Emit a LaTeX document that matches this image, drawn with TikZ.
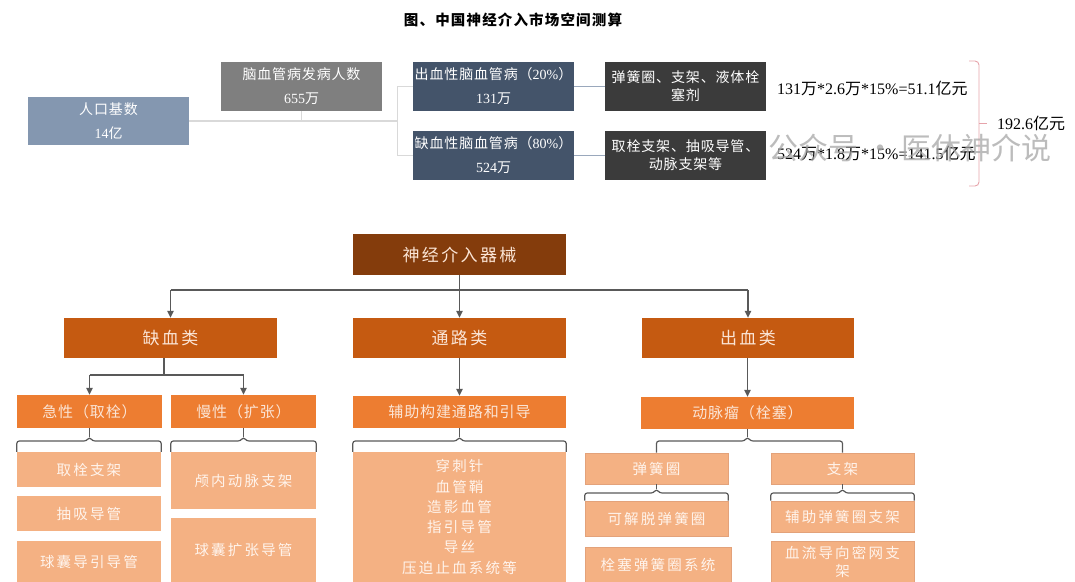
\documentclass[tikz,border=0pt]{standalone}
\usepackage{fontspec}
\setmainfont{Noto Sans CJK SC}
\newfontfamily\cjkA[LetterSpace=6]{Noto Sans CJK SC}
\newfontfamily\cjkS[LetterSpace=6]{Noto Sans CJK SC}
\newfontfamily\cjkC[LetterSpace=14]{Noto Sans CJK SC}
\newfontfamily\cjkB[LetterSpace=15]{Noto Sans CJK SC}
\newfontfamily\cjkT[LetterSpace=8]{Noto Sans CJK SC}
\newfontfamily\lat{Liberation Serif}
\newcommand\nm[1]{{\lat #1}}
\usetikzlibrary{arrows.meta,calc}
\definecolor{popc}{HTML}{8497B0}
\definecolor{incc}{HTML}{7F7F7F}
\definecolor{navyc}{HTML}{44546A}
\definecolor{darkc}{HTML}{3B3B3B}
\definecolor{rootc}{HTML}{843C0C}
\definecolor{catc}{HTML}{C55A11}
\definecolor{subc}{HTML}{ED7D31}
\definecolor{leafc}{HTML}{F4B183}
\definecolor{leafb}{HTML}{E3A27A}
\definecolor{creamc}{HTML}{FBE5D6}
\definecolor{leaftxt}{HTML}{FFF4EC}
\definecolor{lgray}{HTML}{D9D9D9}
\definecolor{bluel}{HTML}{9AA8BC}
\definecolor{bracec}{HTML}{E6A3AA}
\definecolor{conc}{HTML}{595959}
\definecolor{wmc}{HTML}{A6A6A6}
\tikzset{
  topbox/.style={inner sep=0pt, align=center, text=white,
    font=\fontsize{14}{24}\selectfont\cjkA},
  darkbox/.style={inner sep=0pt, align=center, text=white, fill=darkc,
    minimum width=161, minimum height=49,
    font=\fontsize{14}{18}\selectfont\cjkA},
  catbox/.style={inner sep=0pt, align=center, text=creamc,
    font=\fontsize{17}{19}\selectfont\cjkC},
  subbox/.style={inner sep=0pt, align=center, text=creamc, fill=subc,
    font=\fontsize{15}{17}\selectfont\cjkS},
  leafbox/.style={inner sep=0pt, align=center, text=leaftxt, fill=leafc,
    font=\fontsize{14.5}{20.3}\selectfont\cjkB},
  rleaf/.style={leafbox, draw=leafb, line width=0.6},
  conn/.style={draw=conc, line width=1.2},
  arr/.style={conn, -{Triangle[length=7pt,width=6.5pt]}},
  brc/.style={draw=conc, line width=1.2, rounded corners=2.5},
  formula/.style={anchor=west, inner sep=0pt, font=\fontsize{16}{18}\selectfont}
}
% brace: #1 parent node, #2 left end, #3 right end, #4 bar y
\newcommand\brk[4]{%
  \draw[brc] (#2) -- (#2 |- 0,#4) -- ($(#1.south |- 0,#4)+(-3,0)$)
    -- ($(#1.south |- 0,#4)+(0,-4)$) -- ($(#1.south |- 0,#4)+(3,0)$)
    -- (#3 |- 0,#4) -- (#3);
  \draw[conn] ($(#1.south |- 0,#4)+(0,-4)$) -- (#1.south);
}
\begin{document}
\begin{tikzpicture}[x=1pt,y=-1pt]
\useasboundingbox (0,0) rectangle (1075,581);
% ---------- title ----------
\node[font=\fontsize{14.5}{16}\selectfont\cjkT\bfseries, inner sep=0pt] (title) at (513,20) {图、中国神经介入市场空间测算};
% ---------- top flow ----------
\node[topbox, fill=popc, minimum width=161, minimum height=48] (pop) at (108.5,121) {人口基数\\\nm{14}亿};
\node[topbox, fill=incc, minimum width=161, minimum height=49] (inc) at (301.5,86.5) {脑血管病发病人数\\\nm{655}万};
\node[topbox, fill=navyc, minimum width=161, minimum height=49] (hem) at (493.5,86.5) {出血性脑血管病（\nm{20\%}）\\\nm{131}万};
\node[topbox, fill=navyc, minimum width=161, minimum height=49] (isc) at (493.5,155.5) {缺血性脑血管病（\nm{80\%}）\\\nm{524}万};
\node[darkbox] (d1) at (685.5,86.5) {弹簧圈、支架、液体栓\\塞剂};
\node[darkbox] (d2) at (685.5,155.5) {取栓支架、抽吸导管、\\动脉支架等};
\coordinate (j) at (397,121);
\draw[lgray, line width=1.6] (pop.east) -- (j);
\draw[lgray, line width=1] (inc.south) -- (inc.south |- j);
\draw[lgray, line width=1] (hem.west) -| (j);
\draw[lgray, line width=1] (isc.west) -| (j);
\draw[bluel, line width=0.9] (hem.east) -- (d1.west);
\draw[bluel, line width=0.9] (isc.east) -- (d2.west);
\node[formula] (f1) at (777,88) {\nm{131}万\nm{*2.6}万\nm{*15\%=51.1}亿元};
\node[formula] (f2) at (777,153) {\nm{524}万\nm{*1.8}万\nm{*15\%=141.5}亿元};
\coordinate (bt) at (969,61);
\coordinate (bb) at (969,186);
\coordinate (bm) at (979,123);
\coordinate (bn) at (987,123);
\node[formula] (tot) at (997,123) {\nm{192.6}亿元};
\draw[bracec, line width=0.9, rounded corners=4] (bt) -- (979,61) -- (979,186) -- (bb);
\draw[bracec, line width=0.9] (bm) -- (bn);
% ---------- bottom tree ----------
\node[catbox, fill=rootc, minimum width=213, minimum height=41] (root) at (459.5,254.5) {神经介入器械};
\node[catbox, fill=catc, minimum width=213, minimum height=40] (c1) at (170.5,338) {缺血类};
\node[catbox, fill=catc, minimum width=213, minimum height=40] (c2) at (459.5,338) {通路类};
\node[catbox, fill=catc, minimum width=212, minimum height=40] (c3) at (748,338) {出血类};
\coordinate (h) at (459.5,290);
\draw[conn] (root.south) -- (h);
\draw[conn] (c1.north |- h) -- (c3.north |- h);
\draw[arr] (c1.north |- h) -- (c1.north);
\draw[arr] (h) -- (c2.north);
\draw[arr] (c3.north |- h) -- (c3.north);
\node[subbox, minimum width=145, minimum height=33] (s1) at (89.5,411.5) {急性（取栓）};
\node[subbox, minimum width=145, minimum height=33] (s2) at (243.5,411.5) {慢性（扩张）};
\node[subbox, minimum width=213, minimum height=32] (s3) at (459.5,412) {辅助构建通路和引导};
\node[subbox, minimum width=213, minimum height=32] (s4) at (747.5,413) {动脉瘤（栓塞）};
\coordinate (k) at (164,375);
\draw[conn, line width=2.4] (c1.south -| k) -- (k);
\draw[conn] (s1.north |- k) -- (s2.north |- k);
\draw[arr] (s1.north |- k) -- (s1.north);
\draw[arr] (s2.north |- k) -- (s2.north);
\draw[arr] (c2.south) -- (s3.north);
\draw[arr] (c3.south -| s4.north) -- (s4.north);
% leaves
\node[leafbox, minimum width=144, minimum height=35] (t1) at (89,469.5) {取栓支架};
\node[leafbox, minimum width=144, minimum height=35] (t2) at (89,513.5) {抽吸导管};
\node[leafbox, minimum width=144, minimum height=41] (t3) at (89,561.5) {球囊导引导管};
\node[leafbox, minimum width=145, minimum height=57] (b1) at (243.5,480.5) {颅内动脉支架};
\node[leafbox, minimum width=145, minimum height=64] (b2) at (243.5,550) {球囊扩张导管};
\node[leafbox, minimum width=213, minimum height=130] (L) at (459.5,517) {穿刺针\\血管鞘\\造影血管\\指引导管\\导丝\\压迫止血系统等};
\node[rleaf, minimum width=143, minimum height=31] (m1) at (656.5,468.5) {弹簧圈};
\node[rleaf, minimum width=143, minimum height=31] (m2) at (842.5,468.5) {支架};
\node[rleaf, minimum width=143, minimum height=35] (n1) at (656.5,518.5) {可解脱弹簧圈};
\node[rleaf, minimum width=146, minimum height=35] (n2) at (658,564.5) {栓塞弹簧圈系统};
\node[rleaf, minimum width=143, minimum height=31] (n3) at (842.5,516.5) {辅助弹簧圈支架};
\node[rleaf, minimum width=143, minimum height=41, font=\fontsize{14.5}{18}\selectfont\cjkB] (n4) at (842.5,561.5) {血流导向密网支\\架};
% braces
\brk{s1}{t1.north west}{t1.north east}{441}
\brk{s2}{b1.north west}{b1.north east}{441}
\brk{s3}{L.north west}{L.north east}{441}
\brk{s4}{m1.north}{m2.north}{441}
\brk{m1}{n1.north west}{n1.north east}{493}
\brk{m2}{n3.north west}{n3.north east}{493}
% watermark
\node[text=wmc, opacity=0.75, inner sep=0pt, font=\fontsize{30}{32}\selectfont] (wm) at (910,148) {公众号 · 医休神介说};
\end{tikzpicture}
\end{document}
